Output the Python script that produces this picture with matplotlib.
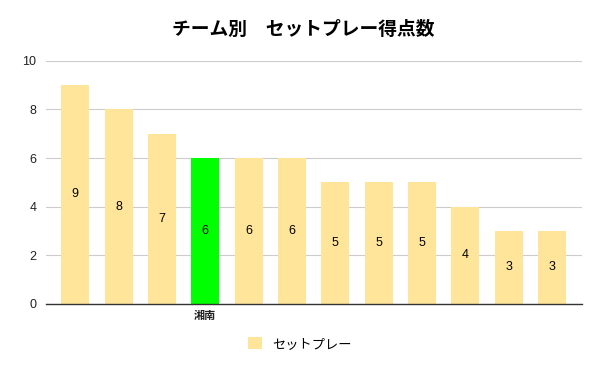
import matplotlib
matplotlib.use("Agg")
import matplotlib.pyplot as plt
from matplotlib.patches import Patch

plt.rcParams['font.family'] = ['Noto Sans CJK JP', 'DejaVu Sans']

teams = ["", "", "", "湘南", "", "", "", "", "", "", "", ""]
values = [9, 8, 7, 6, 6, 6, 5, 5, 5, 4, 3, 3]
highlight = "湘南"
base_color = "#FFE599"
hl_color = "#00FF00"
series_name = "セットプレー"
title = "チーム別　セットプレー得点数"
yticks = [0, 2, 4, 6, 8, 10]

num_font = ['Liberation Sans', 'DejaVu Sans']

fig = plt.figure(figsize=(6, 3.71), dpi=100)
ax = fig.add_axes([0.077, 0.181, 0.893, 0.655])

x = list(range(len(values)))
colors = [hl_color if t == highlight else base_color for t in teams]
ax.bar(x, values, width=0.645, color=colors, zorder=2, label=series_name)
for xi, v in zip(x, values):
    ax.text(xi, v / 2, str(v), ha='center', va='center', fontsize=9,
            family=num_font, color='#000000', zorder=3)

ax.set_xlim(-0.67, 11.69)
ax.set_ylim(0, 10)
ax.set_yticks(yticks)
ax.set_yticklabels([str(t) for t in yticks], fontsize=9, family=num_font, color='#222222')
ax.set_xticks(x)
ax.set_xticklabels(teams, fontsize=8, fontweight='bold', color='#222222')
ax.tick_params(axis='y', length=0, pad=7)
ax.tick_params(axis='x', length=0, pad=4)
ax.grid(axis='y', color='#CCCCCC', linewidth=0.8, zorder=0)
for s in ['top', 'right', 'left']:
    ax.spines[s].set_visible(False)
ax.spines['bottom'].set_color('#333333')
ax.spines['bottom'].set_linewidth(1)
ax.spines['bottom'].set_zorder(4)

fig.suptitle(title, fontsize=13.5, fontweight='bold', y=0.945, x=0.505)

handle = Patch(facecolor=base_color, edgecolor='none')
fig.legend([handle], [series_name], loc='center', bbox_to_anchor=(0.5, 0.073),
           frameon=False, fontsize=9.5, handlelength=1.0, handleheight=1.0, handletextpad=0.8)

fig.savefig("out.png", dpi=100)
